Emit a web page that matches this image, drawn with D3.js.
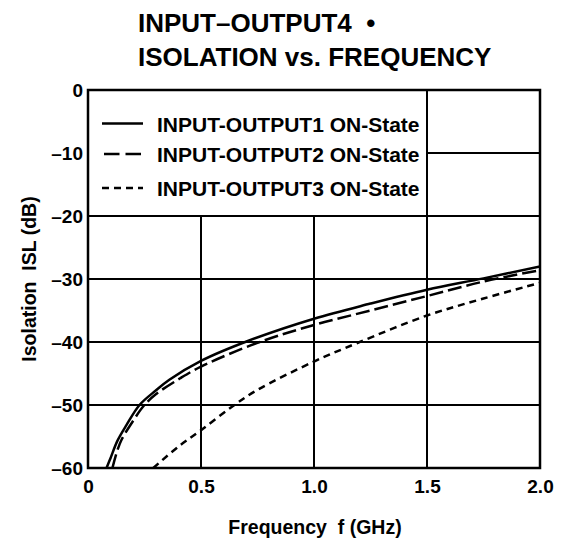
<!DOCTYPE html>
<html>
<head>
<meta charset="utf-8">
<script src="https://cdn.jsdelivr.net/npm/d3@7"></script>
<style>
  html, body { margin: 0; padding: 0; background: #fff; }
  svg { display: block; font-family: "Liberation Sans", Arial, Helvetica, sans-serif; }
  text { white-space: pre; }
</style>
</head>
<body>
<svg id="chart" width="567" height="542"></svg>
<script>
// ---- Data ----
const titleLines = ["INPUT\u2013OUTPUT4  \u2022", "ISOLATION vs. FREQUENCY"];
const xTicks = [0, 0.5, 1.0, 1.5, 2.0];
const yTicks = [0, -10, -20, -30, -40, -50, -60];
const xLabel = "Frequency  f (GHz)";
const yLabel = "Isolation  ISL (dB)";
const seriesNames = ["INPUT-OUTPUT1 ON-State", "INPUT-OUTPUT2 ON-State", "INPUT-OUTPUT3 ON-State"];

const freq1 = [0.082, 0.1, 0.13, 0.17, 0.228, 0.3, 0.36, 0.5, 0.71, 1.0, 1.25, 1.5, 1.75, 2.0];
const isl1  = [-60, -58.4, -55.7, -53.2, -50, -47.7, -46.0, -43.0, -39.8, -36.3, -33.9, -31.7, -29.9, -28.0];

const freq2 = [0.108, 0.13, 0.15, 0.2, 0.245, 0.3, 0.406, 0.5, 0.76, 1.0, 1.25, 1.5, 1.75, 2.0];
const isl2  = [-60, -57.2, -55.4, -52.5, -50.2, -48.3, -45.8, -43.9, -40.0, -37.3, -35.0, -32.7, -30.4, -28.6];

const freq3 = [0.289, 0.4, 0.5, 0.64, 0.75, 1.0, 1.189, 1.5, 1.75, 2.0];
const isl3  = [-60, -56.6, -54.0, -50.2, -47.6, -43.1, -40.2, -35.8, -33.1, -30.6];

// ---- Layout ----
const svg = d3.select("#chart");
const L = 88, R = 540, T = 90, B = 468;
const x = d3.scaleLinear().domain([0, 2]).range([L, R]);
const y = d3.scaleLinear().domain([-60, 0]).range([B, T]);

const series = [
  { name: seriesNames[0], f: freq1, v: isl1, dash: null },
  { name: seriesNames[1], f: freq2, v: isl2, dash: "14,5" },
  { name: seriesNames[2], f: freq3, v: isl3, dash: "7,5" }
];

// Title
svg.selectAll("text.title").data(titleLines).join("text")
  .attr("class", "title")
  .attr("x", 138)
  .attr("y", (d, i) => 32 + i * 34)
  .attr("font-size", 26).attr("font-weight", "bold")
  .text(d => d);

// Grid
const grid = svg.append("g").attr("stroke", "#000").attr("stroke-width", 2);
grid.selectAll("line.v").data(xTicks.filter(d => d > 0 && d < 2)).join("line")
  .attr("x1", d => x(d)).attr("x2", d => x(d))
  .attr("y1", T).attr("y2", B);
grid.selectAll("line.h").data(yTicks.filter(d => d < 0 && d > -60)).join("line")
  .attr("x1", L).attr("x2", R)
  .attr("y1", d => y(d)).attr("y2", d => y(d));

// Legend background (hides grid in legend area)
svg.append("rect")
  .attr("x", L).attr("y", T)
  .attr("width", x(1.5) - L - 1).attr("height", y(-20) - T - 1)
  .attr("fill", "#fff");

// Curves
const line = d3.line().x(d => x(d[0])).y(d => y(d[1])).curve(d3.curveCatmullRom.alpha(0.5));
svg.append("defs").append("clipPath").attr("id", "clip")
  .append("rect").attr("x", L).attr("y", T).attr("width", R - L).attr("height", B - T);
svg.append("g").attr("clip-path", "url(#clip)")
  .selectAll("path").data(series).join("path")
  .attr("d", s => line(s.f.map((f, i) => [f, s.v[i]])))
  .attr("fill", "none").attr("stroke", "#000").attr("stroke-width", 2.5)
  .attr("stroke-dasharray", s => s.dash);

// Frame
svg.append("rect")
  .attr("x", L).attr("y", T).attr("width", R - L).attr("height", B - T)
  .attr("fill", "none").attr("stroke", "#000").attr("stroke-width", 2.5);

// Legend
const legY = [123.5, 154, 188];
const leg = svg.append("g").selectAll("g").data(series).join("g");
leg.append("line")
  .attr("x1", (d, i) => i === 1 ? 104 : 102).attr("x2", 143)
  .attr("y1", (d, i) => legY[i]).attr("y2", (d, i) => legY[i])
  .attr("stroke", "#000").attr("stroke-width", 2.5)
  .attr("stroke-dasharray", (d, i) => i === 1 ? "15.5,6" : d.dash);
leg.append("text")
  .attr("x", 157)
  .attr("y", (d, i) => legY[i] + 8.2)
  .attr("font-size", 21).attr("font-weight", "bold")
  .text(d => d.name);

// Axes (labels only)
const fmtX = d => d === 0 ? "0" : d3.format(".1f")(d);
const fmtY = d => d === 0 ? "0" : String(d).replace("-", "\u2013");

const gx = svg.append("g").attr("transform", `translate(0,${B})`)
  .call(d3.axisBottom(x).tickValues(xTicks).tickFormat(fmtX).tickSize(0).tickPadding(11.5));
const gy = svg.append("g").attr("transform", `translate(${L},0)`)
  .call(d3.axisLeft(y).tickValues(yTicks).tickFormat(fmtY).tickSize(0).tickPadding(5));
[gx, gy].forEach(g => {
  g.select(".domain").remove();
  g.selectAll("text").attr("font-size", 19).attr("font-weight", "bold")
    .attr("fill", "#000").attr("font-family", "'Liberation Sans', Arial, sans-serif");
});

// Axis titles
svg.append("text")
  .attr("x", 315).attr("y", 534)
  .attr("text-anchor", "middle")
  .attr("font-size", 19.5).attr("font-weight", "bold")
  .text(xLabel);
svg.append("text")
  .attr("transform", "translate(36,279) rotate(-90)")
  .attr("text-anchor", "middle")
  .attr("font-size", 19.5).attr("font-weight", "bold")
  .text(yLabel);
</script>
</body>
</html>
